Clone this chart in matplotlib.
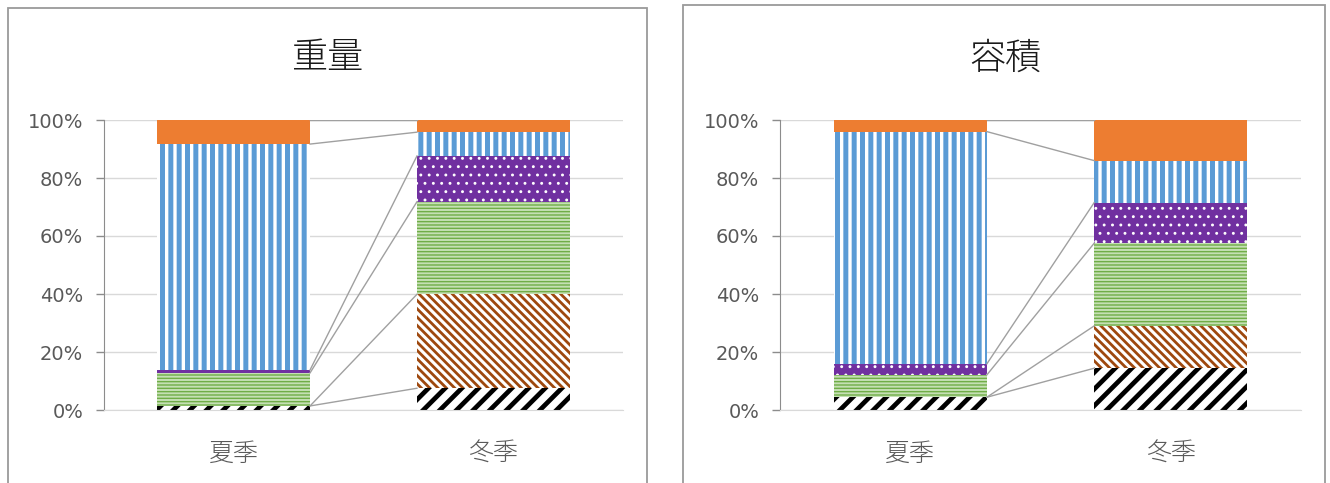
import numpy as np
import matplotlib
matplotlib.use('Agg')
import matplotlib.pyplot as plt
from matplotlib.patches import Rectangle
from matplotlib.ticker import PercentFormatter

plt.rcParams['font.family'] = ['Noto Sans CJK JP', 'DejaVu Sans']
plt.rcParams['hatch.linewidth'] = 2.5

seasons = ['夏季', '冬季']
titles = ['重量', '容積']

# shares (%) bottom -> top, per season
black_w = [1.4, 7.5]
brown_w = [0.0, 32.4]
green_w = [11.4, 31.9]
purple_w = [1.0, 15.8]
blue_w = [77.9, 8.2]
orange_w = [8.3, 4.2]

black_v = [4.4, 14.4]
brown_v = [0.0, 14.6]
green_v = [7.7, 28.5]
purple_v = [3.8, 14.0]
blue_v = [80.1, 14.5]
orange_v = [4.0, 14.0]

weight = [black_w, brown_w, green_w, purple_w, blue_w, orange_w]
volume = [black_v, brown_v, green_v, purple_v, blue_v, orange_v]

# face, hatch colour, hatch, hatch width
styles = [
    ('white', 'black', '//', 3.4),
    ('white', '#9e480e', '\\\\\\\\', 2.0),
    ('#c5e0b4', '#70ad47', '-----', 1.0),
    ('#7030a0', 'white', '..', 0.9),
    ('white', '#5b9bd5', '||', 3.6),
    ('#ed7d31', '#ed7d31', '', 0.0),
]

W, H = 1330, 483
fig = plt.figure(figsize=(W / 100, H / 100), dpi=100)

# chart frames
for x0, x1, y0 in [(8, 647, 8), (683, 1325, 5)]:
    fig.patches.append(Rectangle((x0 / W, -0.1), (x1 - x0) / W, 1.1 - y0 / H,
                                 transform=fig.transFigure, fill=False,
                                 edgecolor='#9a9a9a', lw=1.3))

boxes = [(104, 519), (780, 521)]
title_x = [328, 1005]
width = 0.588

for data, title, (left, aw), tx in zip([weight, volume], titles, boxes, title_x):
    ax = fig.add_axes([left / W, (H - 410) / H, aw / W, 290 / H])
    x = np.arange(len(seasons))
    bottom = np.zeros(len(seasons))
    tops = []
    for vals, (fc, hc, hatch, hw) in zip(data, styles):
        vals = np.array(vals) / 100
        bars = ax.bar(x, vals, width, bottom=bottom, color=fc, edgecolor=hc,
                      hatch=hatch, linewidth=0, zorder=2)
        for b in bars:
            if hasattr(b, 'set_hatch_linewidth') and hw:
                b.set_hatch_linewidth(hw)
        bottom = bottom + vals
        tops.append(bottom.copy())
    # series lines
    for t in tops:
        ax.plot([x[0] + width / 2, x[1] - width / 2], t, color='#a0a0a0',
                lw=1, zorder=3)

    ax.set_xlim(-0.5, 1.5)
    ax.set_ylim(0, 1)
    ax.set_yticks(np.linspace(0, 1, 6))
    ax.yaxis.set_major_formatter(PercentFormatter(1.0, decimals=0))
    ax.set_xticks(x)
    ax.set_xticklabels(seasons, fontsize=18, color='#595959', fontweight='light')
    ax.tick_params(axis='x', length=0, pad=22)
    ax.tick_params(axis='y', length=6, width=1, color='#8c8c8c',
                   labelcolor='#595959', pad=9)
    for lab in ax.get_yticklabels():
        lab.set_fontfamily('DejaVu Sans')
        lab.set_fontsize(14)
    ax.grid(axis='y', color='#d9d9d9', lw=1, zorder=0)
    ax.set_axisbelow(True)
    for s in ['top', 'right']:
        ax.spines[s].set_visible(False)
    ax.spines['left'].set_color('#8c8c8c')
    ax.spines['bottom'].set_color('#d9d9d9')

    fig.text(tx / W, 1 - 58 / H, title, fontsize=26, ha='center', va='center',
             color='#1a1a1a', fontweight='light')

fig.savefig('out.png', dpi=100)
